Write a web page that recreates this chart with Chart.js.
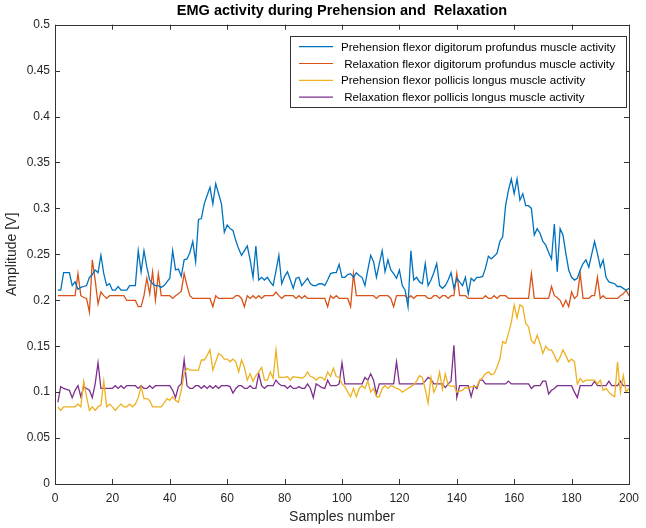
<!DOCTYPE html>
<html><head><meta charset="utf-8">
<script src="https://cdn.jsdelivr.net/npm/chart.js@4.4.0/dist/chart.umd.min.js"></script>
<style>html,body{margin:0;padding:0;background:#fff}#wrap{width:646px;height:528px}</style>
</head><body><div id="wrap"><canvas id="c" width="646" height="528"></canvas></div>
<script>
const chartTitle = 'EMG activity during Prehension and  Relaxation';
const xTitle = 'Samples number';
const yTitle = 'Amplitude [V]';
const seriesLabels = [
  'Prehension flexor digitorum profundus muscle activity',
  ' Relaxation flexor digitorum profundus muscle activity',
  'Prehension flexor pollicis longus muscle activity',
  ' Relaxation flexor pollicis longus muscle activity'
];
const seriesColors = ['#0072BD', '#D95319', '#EDB120', '#7E2F8E'];
const xTickValues = [0,20,40,60,80,100,120,140,160,180,200];
const yTickValues = [0,0.05,0.1,0.15,0.2,0.25,0.3,0.35,0.4,0.45,0.5];

const prehensionFDP = [
0.211,0.211,0.230,0.230,0.230,0.216,0.220,0.212,0.214,0.215,
0.216,0.225,0.228,0.233,0.230,0.249,0.229,0.216,0.218,0.211,
0.211,0.215,0.211,0.211,0.211,0.216,0.216,0.216,0.254,0.231,
0.254,0.236,0.222,0.218,0.216,0.216,0.214,0.216,0.220,0.224,
0.254,0.233,0.234,0.226,0.244,0.245,0.252,0.264,0.242,0.288,
0.289,0.305,0.314,0.323,0.305,0.327,0.316,0.305,0.274,0.282,
0.278,0.276,0.265,0.256,0.249,0.254,0.259,0.244,0.225,0.259,
0.222,0.225,0.222,0.225,0.220,0.216,0.232,0.249,0.218,0.226,
0.231,0.222,0.213,0.224,0.225,0.216,0.220,0.224,0.218,0.216,
0.216,0.218,0.218,0.216,0.222,0.229,0.230,0.230,0.239,0.225,
0.225,0.228,0.229,0.225,0.230,0.227,0.225,0.216,0.233,0.249,
0.242,0.225,0.240,0.254,0.231,0.244,0.233,0.229,0.224,0.233,
0.216,0.211,0.193,0.254,0.222,0.225,0.220,0.218,0.240,0.216,
0.222,0.230,0.240,0.216,0.213,0.216,0.222,0.230,0.213,0.224,
0.220,0.216,0.225,0.207,0.224,0.221,0.225,0.225,0.226,0.235,
0.248,0.245,0.248,0.251,0.264,0.269,0.303,0.320,0.332,0.316,
0.332,0.309,0.316,0.303,0.303,0.300,0.271,0.278,0.273,0.264,
0.260,0.252,0.245,0.283,0.231,0.278,0.271,0.251,0.233,0.225,
0.222,0.224,0.233,0.240,0.244,0.236,0.250,0.264,0.251,0.236,
0.244,0.225,0.220,0.219,0.218,0.215,0.215,0.213,0.211,0.213
];
const relaxationFDP = [
0.205,0.205,0.205,0.205,0.205,0.205,0.205,0.229,0.205,0.203,
0.202,0.187,0.244,0.222,0.196,0.209,0.205,0.202,0.205,0.205,
0.205,0.205,0.205,0.205,0.200,0.200,0.200,0.200,0.193,0.193,
0.205,0.224,0.207,0.231,0.200,0.229,0.205,0.205,0.205,0.205,
0.202,0.205,0.207,0.210,0.229,0.216,0.205,0.202,0.202,0.202,
0.202,0.202,0.202,0.202,0.193,0.205,0.202,0.202,0.202,0.202,
0.202,0.202,0.205,0.205,0.202,0.193,0.205,0.202,0.205,0.202,
0.205,0.202,0.205,0.205,0.205,0.205,0.209,0.205,0.202,0.205,
0.205,0.205,0.205,0.202,0.205,0.202,0.205,0.202,0.202,0.202,
0.202,0.202,0.202,0.202,0.193,0.205,0.202,0.205,0.202,0.202,
0.202,0.202,0.193,0.229,0.205,0.205,0.205,0.205,0.205,0.205,
0.205,0.202,0.205,0.205,0.205,0.205,0.202,0.193,0.205,0.205,
0.205,0.205,0.202,0.205,0.202,0.205,0.205,0.205,0.205,0.202,
0.202,0.205,0.205,0.202,0.205,0.205,0.202,0.205,0.205,0.229,
0.205,0.205,0.205,0.202,0.202,0.202,0.202,0.202,0.202,0.205,
0.202,0.202,0.205,0.202,0.205,0.205,0.205,0.202,0.202,0.202,
0.202,0.202,0.202,0.202,0.202,0.229,0.202,0.202,0.202,0.202,
0.202,0.202,0.215,0.205,0.203,0.200,0.193,0.200,0.193,0.209,
0.202,0.205,0.229,0.202,0.202,0.202,0.205,0.205,0.225,0.202,
0.205,0.202,0.202,0.202,0.202,0.202,0.205,0.207,0.211,0.205
];
const prehensionFPL = [
0.084,0.080,0.084,0.084,0.084,0.084,0.084,0.087,0.084,0.112,
0.095,0.080,0.084,0.080,0.084,0.086,0.112,0.084,0.087,0.084,
0.080,0.084,0.087,0.084,0.084,0.087,0.084,0.087,0.094,0.106,
0.093,0.093,0.091,0.084,0.084,0.084,0.084,0.088,0.093,0.091,
0.095,0.091,0.089,0.102,0.120,0.126,0.124,0.124,0.124,0.124,
0.135,0.135,0.140,0.146,0.124,0.133,0.142,0.140,0.136,0.136,
0.133,0.136,0.133,0.122,0.135,0.127,0.113,0.120,0.112,0.118,
0.122,0.127,0.113,0.113,0.122,0.115,0.146,0.116,0.116,0.116,
0.117,0.113,0.117,0.116,0.116,0.115,0.117,0.122,0.117,0.116,
0.113,0.116,0.116,0.113,0.122,0.117,0.126,0.117,0.116,0.109,
0.106,0.100,0.095,0.104,0.095,0.104,0.107,0.104,0.112,0.100,
0.104,0.095,0.095,0.104,0.107,0.104,0.107,0.106,0.104,0.103,
0.100,0.102,0.104,0.106,0.108,0.112,0.118,0.116,0.103,0.088,
0.116,0.100,0.107,0.122,0.103,0.120,0.108,0.106,0.107,0.100,
0.101,0.102,0.105,0.104,0.106,0.106,0.106,0.113,0.116,0.120,
0.122,0.119,0.120,0.127,0.136,0.155,0.153,0.164,0.176,0.195,
0.181,0.195,0.193,0.175,0.171,0.156,0.153,0.162,0.153,0.142,
0.150,0.146,0.146,0.140,0.133,0.138,0.146,0.140,0.133,0.136,
0.133,0.109,0.115,0.111,0.113,0.113,0.113,0.113,0.109,0.113,
0.102,0.104,0.100,0.097,0.095,0.133,0.100,0.118,0.100,0.104
];
const relaxationFPL = [
0.089,0.106,0.104,0.103,0.102,0.094,0.102,0.107,0.095,0.106,
0.104,0.102,0.094,0.109,0.132,0.104,0.104,0.104,0.104,0.104,
0.107,0.104,0.107,0.104,0.107,0.107,0.107,0.107,0.104,0.107,
0.104,0.104,0.107,0.104,0.107,0.107,0.107,0.107,0.107,0.107,
0.102,0.094,0.106,0.109,0.135,0.107,0.104,0.104,0.107,0.107,
0.104,0.107,0.104,0.107,0.104,0.107,0.104,0.107,0.107,0.107,
0.106,0.099,0.104,0.107,0.107,0.104,0.104,0.107,0.104,0.104,
0.120,0.107,0.104,0.107,0.107,0.107,0.113,0.109,0.107,0.107,
0.104,0.107,0.104,0.104,0.106,0.104,0.104,0.109,0.104,0.094,
0.109,0.107,0.105,0.104,0.113,0.107,0.107,0.107,0.109,0.132,
0.109,0.109,0.109,0.109,0.109,0.109,0.109,0.116,0.113,0.120,
0.113,0.098,0.109,0.109,0.109,0.109,0.109,0.109,0.133,0.109,
0.109,0.109,0.109,0.109,0.109,0.109,0.109,0.109,0.112,0.116,
0.114,0.109,0.109,0.109,0.109,0.105,0.109,0.112,0.151,0.094,
0.107,0.107,0.107,0.107,0.095,0.107,0.104,0.113,0.113,0.109,
0.109,0.109,0.109,0.109,0.109,0.109,0.109,0.112,0.109,0.109,
0.109,0.109,0.109,0.109,0.109,0.104,0.107,0.107,0.107,0.112,
0.112,0.098,0.102,0.104,0.107,0.107,0.107,0.107,0.107,0.107,
0.100,0.094,0.107,0.107,0.107,0.107,0.107,0.112,0.107,0.107,
0.107,0.107,0.112,0.107,0.107,0.107,0.112,0.107,0.107,0.107
];
const seriesValues = [prehensionFDP, relaxationFDP, prehensionFPL, relaxationFPL];

const FONT = '"Liberation Sans", Arial, Helvetica, sans-serif';
const AXIS = '#333333';
const TEXT = '#262626';

const matlabAxes = {
  id: 'matlabAxes',
  afterDatasetsDraw(chart) {
    const {ctx, chartArea: a, scales: {x, y}} = chart;
    const L = 5;
    ctx.save();
    ctx.strokeStyle = AXIS;
    ctx.lineWidth = 1;
    ctx.beginPath();
    x.ticks.forEach(t => {
      const px = Math.round(x.getPixelForValue(t.value)) + 0.5;
      ctx.moveTo(px, a.bottom); ctx.lineTo(px, a.bottom - L);
      ctx.moveTo(px, a.top); ctx.lineTo(px, a.top + L);
    });
    y.ticks.forEach(t => {
      const py = Math.round(y.getPixelForValue(t.value)) + 0.5;
      ctx.moveTo(a.left, py); ctx.lineTo(a.left + L, py);
      ctx.moveTo(a.right, py); ctx.lineTo(a.right - L, py);
    });
    ctx.stroke();
    ctx.strokeRect(Math.round(a.left) + 0.5, Math.round(a.top) + 0.5,
                   Math.round(a.right - a.left), Math.round(a.bottom - a.top));
    // legend box
    const bx = 290.5, by = 36.5, bw = 336, bh = 71;
    ctx.fillStyle = '#ffffff';
    ctx.fillRect(bx, by, bw, bh);
    ctx.strokeRect(bx, by, bw, bh);
    ctx.font = '11.6px ' + FONT;
    ctx.textBaseline = 'middle';
    ctx.textAlign = 'left';
    chart.data.datasets.forEach((ds, i) => {
      const yy = 46.7 + i * 16.8;
      ctx.strokeStyle = ds.borderColor;
      ctx.lineWidth = 1.2;
      ctx.beginPath();
      ctx.moveTo(299, yy); ctx.lineTo(333, yy);
      ctx.stroke();
      ctx.fillStyle = '#000000';
      ctx.fillText(ds.label, 341, yy + 0.8);
    });
    ctx.restore();
  }
};

const samples = prehensionFDP.map((_, i) => i + 1);

new Chart(document.getElementById('c'), {
  type: 'line',
  data: {
    datasets: seriesValues.map((vals, k) => ({
      label: seriesLabels[k],
      data: vals.map((v, i) => ({x: samples[i], y: v})),
      borderColor: seriesColors[k],
      borderWidth: 1.3,
      pointRadius: 0,
      tension: 0,
      fill: false
    }))
  },
  options: {
    responsive: false,
    animation: false,
    devicePixelRatio: 1,
    layout: {padding: {top: 0, right: 9, left: 0, bottom: 0}},
    plugins: {
      legend: {display: false},
      tooltip: {enabled: false},
      title: {
        display: true, text: chartTitle, fullSize: false,
        color: '#000', font: {family: FONT, size: 14.5, weight: 'bold', lineHeight: 1.2},
        padding: {top: 2.3, bottom: 5}
      }
    },
    scales: {
      x: {
        type: 'linear', min: 0, max: 200,
        afterBuildTicks: s => { s.ticks = xTickValues.map(v => ({value: v})); },
        afterFit: s => { s.height = 44; },
        grid: {display: false, drawTicks: false},
        border: {display: false},
        ticks: {color: TEXT, font: {family: FONT, size: 12}, padding: 7, maxRotation: 0,
                callback: v => String(v)},
        title: {display: true, text: xTitle, color: TEXT, font: {family: FONT, size: 14},
                padding: {top: 0, bottom: 2.6}}
      },
      y: {
        type: 'linear', min: 0, max: 0.5,
        afterBuildTicks: s => { s.ticks = yTickValues.map(v => ({value: v})); },
        afterFit: s => { s.width = 55; },
        grid: {display: false, drawTicks: false},
        border: {display: false},
        ticks: {color: TEXT, font: {family: FONT, size: 12}, padding: 5,
                callback: v => String(Math.round(v * 100) / 100)},
        title: {display: true, text: yTitle, color: TEXT, font: {family: FONT, size: 14},
                padding: {top: 3.6, bottom: 0}}
      }
    }
  },
  plugins: [matlabAxes]
});
</script></body></html>
